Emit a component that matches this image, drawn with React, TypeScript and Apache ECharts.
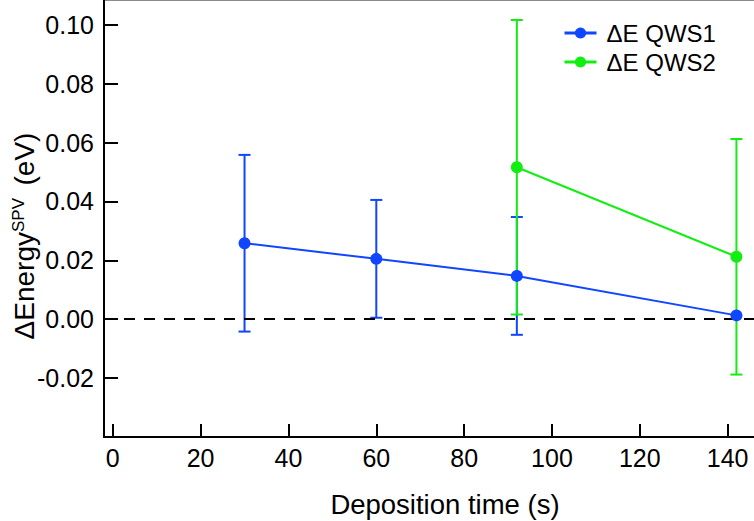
import React, { useEffect, useRef } from "react";
import * as echarts from "echarts";

const xTicks = [0, 20, 40, 60, 80, 100, 120, 140];
const yTicks = [-0.02, 0, 0.02, 0.04, 0.06, 0.08, 0.1];
const seriesNames = ["ΔE QWS1", "ΔE QWS2"];
const timeQWS1 = [30, 60, 92, 142];
const energyQWS1 = [0.0258, 0.0205, 0.0147, 0.0013];
const errorQWS1 = [0.03, 0.02, 0.02, 0];
const timeQWS2 = [92, 142];
const energyQWS2 = [0.0516, 0.0212];
const errorQWS2 = [0.05, 0.04];
const xTitle = "Deposition time (s)";

const BLUE = "#1046ff";
const GREEN = "#12ee12";
const FONT = "'Liberation Sans', Arial, Helvetica, sans-serif";

function errorSeries(name: string, xs: number[], ys: number[], es: number[], color: string, z: number) {
  return {
    type: "custom",
    name,
    z,
    silent: true,
    clip: false,
    data: xs.map((x, i) => [x, ys[i], es[i]]),
    encode: { x: 0, y: 1 },
    renderItem: (_params: any, api: any) => {
      const x = api.value(0);
      const y = api.value(1);
      const e = api.value(2);
      if (!e) return { type: "group", children: [] };
      const top = api.coord([x, y + e]);
      const bot = api.coord([x, y - e]);
      const w = 6;
      const style = { stroke: color, lineWidth: 2 };
      return {
        type: "group",
        children: [
          { type: "line", shape: { x1: top[0], y1: top[1], x2: bot[0], y2: bot[1] }, style },
          { type: "line", shape: { x1: top[0] - w, y1: top[1], x2: top[0] + w, y2: top[1] }, style },
          { type: "line", shape: { x1: bot[0] - w, y1: bot[1], x2: bot[0] + w, y2: bot[1] }, style },
        ],
      };
    },
  };
}

export default function App() {
  const ref = useRef<HTMLDivElement>(null);
  useEffect(() => {
    document.body.style.margin = "0";
    const chart = echarts.init(ref.current!, null, { renderer: "svg" });
    const option: any = {
      animation: false,
      backgroundColor: "#fff",
      grid: { left: 104, right: 0, top: 0, bottom: 84, containLabel: false },
      legend: {
        data: seriesNames,
        orient: "vertical",
        left: 563,
        top: 21,
        padding: 0,
        itemWidth: 32,
        itemHeight: 14,
        itemGap: 5,
        lineStyle: { width: 3 },
        textStyle: { fontSize: 24, lineHeight: 24, fontFamily: FONT, color: "#000", padding: [0, 0, 0, 5] },
      },
      xAxis: {
        type: "value",
        min: -2,
        max: 146,
        axisLine: { show: true, onZero: false, lineStyle: { color: "#000", width: 2 } },
        axisTick: { show: true, inside: true, length: 13, customValues: xTicks, lineStyle: { color: "#000", width: 2 } },
        axisLabel: { customValues: xTicks, color: "#000", fontSize: 25, fontFamily: FONT, margin: 8 },
        splitLine: { show: false },
      },
      yAxis: {
        type: "value",
        min: -0.04,
        max: 0.1084,
        axisLine: { show: true, onZero: false, lineStyle: { color: "#000", width: 2 } },
        axisTick: { show: true, inside: true, length: 14, customValues: yTicks, lineStyle: { color: "#000", width: 2 } },
        axisLabel: {
          customValues: yTicks,
          color: "#000",
          fontSize: 25,
          fontFamily: FONT,
          margin: 10,
          formatter: (v: number) => v.toFixed(2),
        },
        splitLine: { show: false },
      },
      graphic: [
        {
          type: "line",
          shape: { x1: 104, y1: 0.5, x2: 754, y2: 0.5 },
          style: { stroke: "#8a8a8a", lineWidth: 1 },
          silent: true,
        },
        {
          type: "text",
          x: 24,
          y: 236,
          rotation: Math.PI / 2,
          style: {
            text: "ΔEnergy{sup|SPV }" + " (eV)",
            fontSize: 28,
            fontFamily: FONT,
            fill: "#000",
            align: "center",
            verticalAlign: "middle",
            rich: { sup: { fontSize: 17, fontFamily: FONT, fill: "#000", verticalAlign: "top" } },
          },
        },
        {
          type: "text",
          x: 445,
          y: 504,
          style: {
            text: xTitle,
            fontSize: 27.5,
            fontFamily: FONT,
            fill: "#000",
            align: "center",
            verticalAlign: "middle",
          },
        },
      ],
      series: [
        {
          type: "line",
          name: "zero",
          data: [],
          z: 1,
          silent: true,
          markLine: {
            silent: true,
            symbol: ["none", "none"],
            label: { show: false },
            lineStyle: { color: "#000", width: 2, type: [11, 9] },
            data: [{ yAxis: 0 }],
          },
        },
        errorSeries("err1", timeQWS1, energyQWS1, errorQWS1, BLUE, 2),
        errorSeries("err2", timeQWS2, energyQWS2, errorQWS2, GREEN, 3),
        {
          type: "line",
          name: seriesNames[1],
          data: timeQWS2.map((x, i) => [x, energyQWS2[i]]),
          symbol: "circle",
          symbolSize: 12,
          lineStyle: { color: GREEN, width: 2 },
          itemStyle: { color: GREEN },
          z: 4,
          clip: false,
        },
        {
          type: "line",
          name: seriesNames[0],
          data: timeQWS1.map((x, i) => [x, energyQWS1[i]]),
          symbol: "circle",
          symbolSize: 12,
          lineStyle: { color: BLUE, width: 2 },
          itemStyle: { color: BLUE },
          z: 5,
          clip: false,
        },
      ],
    };
    chart.setOption(option);
    return () => chart.dispose();
  }, []);
  return <div ref={ref} style={{ width: 754, height: 521 }} />;
}
